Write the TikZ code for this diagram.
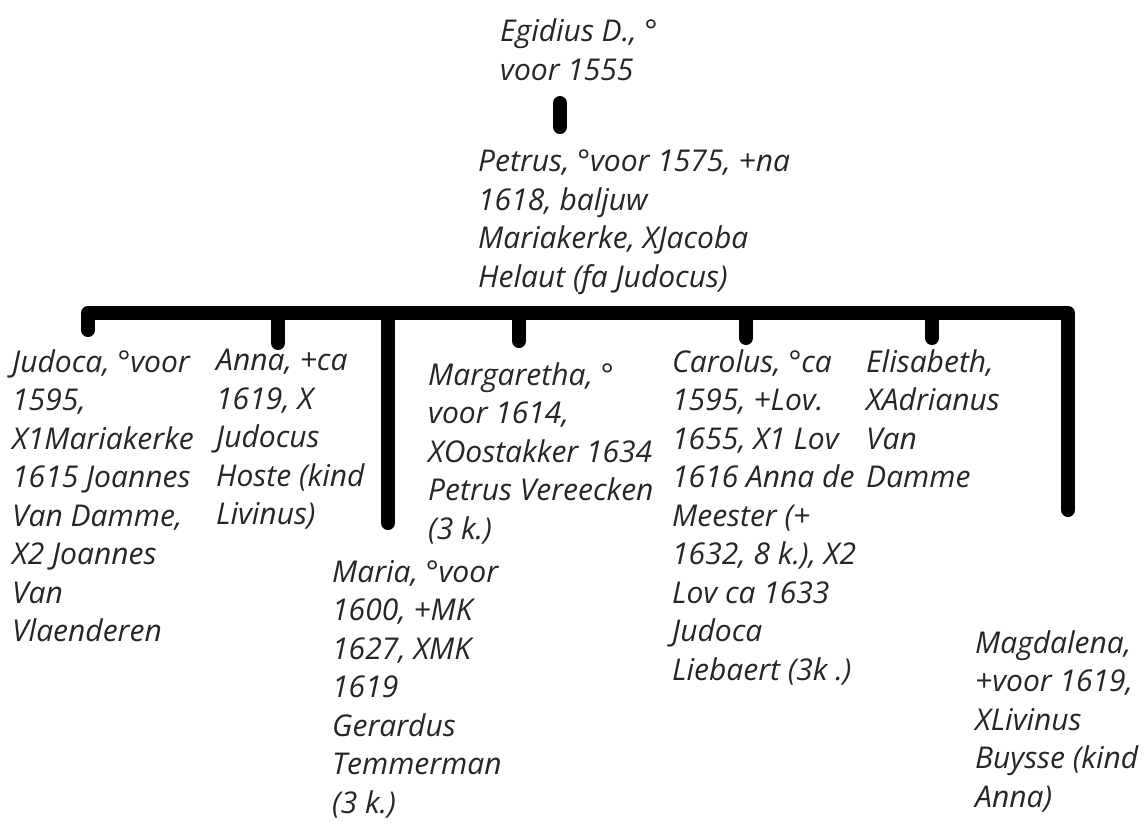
\documentclass[tikz,border=0pt]{standalone}
\usepackage{fontspec}
\setmainfont{Open Sans}
\begin{document}
\begin{tikzpicture}[x=1pt,y=-1pt]
\tikzset{persoon/.style={align=left, anchor=north west, inner sep=0pt, text=black!85, font=\itshape\fontsize{30}{38.5}\selectfont}}
\tikzset{tak/.style={line width=14pt, line cap=round, line join=round}}
\useasboundingbox (0,0) rectangle (1147,839);
\node[persoon] (egidius) at (500,19) {Egidius D., °\\voor 1555};
\node[persoon] (petrus) at (478,150) {Petrus, °voor 1575, +na\\1618, baljuw\\Mariakerke, XJacoba\\Helaut (fa Judocus)};
\node[persoon] (judoca) at (12,349) {Judoca, °voor\\1595,\\X1Mariakerke\\1615 Joannes\\Van Damme,\\X2 Joannes\\Van\\Vlaenderen};
\node[persoon] (anna) at (216,349) {Anna, +ca\\1619, X\\Judocus\\Hoste (kind\\Livinus)};
\node[persoon] (maria) at (332,560) {Maria, °voor\\1600, +MK\\1627, XMK\\1619\\Gerardus\\Temmerman\\(3 k.)};
\node[persoon] (margaretha) at (428,362) {Margaretha, °\\voor 1614,\\XOostakker 1634\\Petrus Vereecken\\(3 k.)};
\node[persoon] (carolus) at (672,349) {Carolus, °ca\\1595, +Lov.\\1655, X1 Lov\\1616 Anna de\\Meester (+\\1632, 8 k.), X2\\Lov ca 1633\\Judoca\\Liebaert (3k .)};
\node[persoon] (elisabeth) at (866,349) {Elisabeth,\\XAdrianus\\Van\\Damme};
\node[persoon] (magdalena) at (975,630) {Magdalena,\\+voor 1619,\\XLivinus\\Buysse (kind\\Anna)};
% vertical link father - son
\coordinate (e1) at (560,103);
\coordinate (e2) at (560,127);
\draw[tak] (e1) -- (e2);
% bar with the children
\coordinate (bl) at (88,313);
\coordinate (br) at (1068,313);
\coordinate (d1) at (88,330);
\coordinate (d2) at (278,343);
\coordinate (d3) at (388,523);
\coordinate (d4) at (519,341);
\coordinate (d5) at (746,338);
\coordinate (d6) at (932,338);
\coordinate (d7) at (1068,510);
\draw[tak] (d1) -- (bl) -- (br) -- (d7);
\draw[tak] (d2 |- bl) -- (d2);
\draw[tak] (d3 |- bl) -- (d3);
\draw[tak] (d4 |- bl) -- (d4);
\draw[tak] (d5 |- bl) -- (d5);
\draw[tak] (d6 |- bl) -- (d6);
\end{tikzpicture}
\end{document}
